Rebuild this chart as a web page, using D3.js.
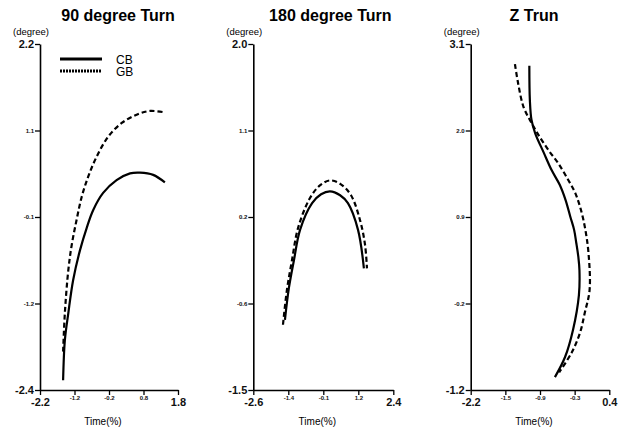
<!DOCTYPE html>
<html>
<head>
<meta charset="utf-8">
<script src="https://cdn.jsdelivr.net/npm/d3@7"></script>
<style>
body { margin: 0; background: #fff; }
text { font-family: "Liberation Sans", Arial, sans-serif; }
</style>
</head>
<body>
<div id="chart"></div>
<script>

var width = 622,
    height = 428;

// panel titles
var titles = ["90 degree Turn", "180 degree Turn", "Z Trun"];

// tick labels (ticks are evenly spaced along each axis)
var xTicks90 = ["-2.2", "-1.2", "-0.2", "0.8", "1.8"],
    yTicks90 = ["2.2", "1.1", "-0.1", "-1.2", "-2.4"],
    xTicks180 = ["-2.6", "-1.4", "-0.1", "1.2", "2.4"],
    yTicks180 = ["2.0", "1.1", "0.2", "-0.6", "-1.5"],
    xTicksZ = ["-2.2", "-1.5", "-0.9", "-0.3", "0.4"],
    yTicksZ = ["3.1", "2.0", "0.9", "-0.2", "-1.2"];

// curves, [time, degree]
var cb90 = [[-1.53,-2.27],[-1.48,-1.74],[-1.38,-1.38],[-1.24,-0.94],[-1.04,-0.54],
            [-0.85,-0.25],[-0.66,-0.01],[-0.37,0.22],[0.02,0.39],[0.41,0.48],
            [0.70,0.49],[1.08,0.46],[1.42,0.36]];
var gb90 = [[-1.53,-1.89],[-1.48,-1.38],[-1.38,-0.81],[-1.28,-0.47],[-1.14,-0.14],
            [-0.99,0.17],[-0.80,0.44],[-0.56,0.70],[-0.22,0.97],[0.17,1.15],
            [0.60,1.26],[0.99,1.31],[1.42,1.29]];

var cb180 = [[-1.47,-0.79],[-1.33,-0.47],[-1.15,-0.19],[-0.93,0.12],[-0.50,0.39],
             [-0.18,0.48],[0.14,0.51],[0.50,0.47],[0.78,0.39],[1.14,0.12],[1.35,-0.27]];
var gb180 = [[-1.54,-0.84],[-1.40,-0.49],[-1.22,-0.19],[-1.00,0.14],[-0.58,0.44],
             [-0.22,0.57],[0.14,0.62],[0.53,0.58],[0.89,0.47],[1.21,0.22],
             [1.39,-0.03],[1.46,-0.27]];

var cbZ = [[-1.10,2.83],[-1.09,2.40],[-1.06,2.16],[-0.99,1.99],[-0.83,1.75],
           [-0.68,1.53],[-0.53,1.35],[-0.42,1.16],[-0.33,0.95],[-0.26,0.79],
           [-0.22,0.63],[-0.18,0.45],[-0.16,0.29],[-0.17,-0.02],[-0.28,-0.45],
           [-0.43,-0.79],[-0.62,-1.04]];
var gbZ = [[-1.37,2.85],[-1.31,2.61],[-1.21,2.32],[-1.06,2.12],[-0.93,1.97],
           [-0.74,1.78],[-0.56,1.62],[-0.37,1.41],[-0.24,1.25],[-0.15,1.08],
           [-0.06,0.83],[0.01,0.50],[0.03,0.04],[-0.06,-0.24],[-0.15,-0.49],
           [-0.31,-0.74],[-0.54,-0.98]];

var panels = [
  {title: titles[0], left: 40, w: 138, tdx: 9, xt: xTicks90, yt: yTicks90, cb: cb90, gb: gb90},
  {title: titles[1], left: 253.3, w: 140, tdx: 7, xt: xTicks180, yt: yTicks180, cb: cb180, gb: gb180},
  {title: titles[2], left: 470.7, w: 138.6, tdx: -6, xt: xTicksZ, yt: yTicksZ, cb: cbZ, gb: gbZ}
];

var plotTop = 44, plotBottom = 390;

var svg = d3.select("#chart").append("svg")
    .attr("width", width)
    .attr("height", height);

panels.forEach(function(p){

  var xd = [+p.xt[0], +p.xt[p.xt.length-1]],
      yd = [+p.yt[p.yt.length-1], +p.yt[0]];

  var x = d3.scaleLinear().domain(xd).range([p.left, p.left + p.w]);
  var y = d3.scaleLinear().domain(yd).range([plotBottom, plotTop]);

  var xPos = p.xt.map(function(d, i){ return xd[0] + (xd[1]-xd[0]) * i / (p.xt.length-1); });
  var yPos = p.yt.map(function(d, i){ return yd[1] - (yd[1]-yd[0]) * i / (p.yt.length-1); });

  var g = svg.append("g");

  var xAxis = d3.axisBottom(x).tickValues(xPos)
      .tickFormat(function(d, i){ return p.xt[i]; })
      .tickSize(5).tickSizeOuter(0);
  var yAxis = d3.axisLeft(y).tickValues(yPos)
      .tickFormat(function(d, i){ return p.yt[i]; })
      .tickSize(5).tickSizeOuter(0);

  var gx = g.append("g").attr("transform", "translate(0," + plotBottom + ")").call(xAxis);
  var gy = g.append("g").attr("transform", "translate(" + p.left + ",0)").call(yAxis);

  [gx, gy].forEach(function(a){
    a.attr("font-family", null).attr("font-size", null);
    a.select(".domain").attr("stroke", "#000").attr("stroke-width", 1.6);
    a.selectAll(".tick line").attr("stroke", "#000").attr("stroke-width", 1.3);
    a.selectAll(".tick text")
      .attr("fill", "#111")
      .style("font-weight", "bold")
      .style("font-size", function(d, i, n){ return (i == 0 || i == n.length-1) ? "11px" : "6px"; });
  });
  gx.selectAll(".tick text").attr("y", function(d, i, n){ return (i == 0 || i == n.length-1) ? 8 : 6; });
  gy.selectAll(".tick text").attr("x", -6);

  g.append("text")
    .attr("x", p.left + p.w/2 + p.tdx)
    .attr("y", 21)
    .attr("text-anchor", "middle")
    .style("font-size", "16px")
    .style("font-weight", "bold")
    .text(p.title);

  g.append("text")
    .attr("x", p.left - 9)
    .attr("y", 35)
    .attr("text-anchor", "middle")
    .style("font-size", "9.5px")
    .text("(degree)");

  g.append("text")
    .attr("x", p.left + p.w/2 - 6)
    .attr("y", 425)
    .attr("text-anchor", "middle")
    .style("font-size", "10px")
    .text("Time(%)");

  var line = d3.line()
      .x(function(d){ return x(d[0]); })
      .y(function(d){ return y(d[1]); })
      .curve(d3.curveCatmullRom);

  g.append("path").datum(p.gb)
    .attr("d", line)
    .attr("fill", "none")
    .attr("stroke", "#000")
    .attr("stroke-width", 2.2)
    .attr("stroke-dasharray", "5,3");

  g.append("path").datum(p.cb)
    .attr("d", line)
    .attr("fill", "none")
    .attr("stroke", "#000")
    .attr("stroke-width", 2.2);
});

// legend
var legend = svg.append("g");
legend.append("line").attr("x1", 60).attr("x2", 102).attr("y1", 59).attr("y2", 59)
  .attr("stroke", "#000").attr("stroke-width", 2.8);
legend.append("line").attr("x1", 60).attr("x2", 102).attr("y1", 71).attr("y2", 71)
  .attr("stroke", "#000").attr("stroke-width", 2.8).attr("stroke-dasharray", "2,1");
legend.append("text").attr("x", 116).attr("y", 63.5).style("font-size", "12px").text("CB");
legend.append("text").attr("x", 116).attr("y", 76).style("font-size", "12px").text("GB");

</script>
</body>
</html>
